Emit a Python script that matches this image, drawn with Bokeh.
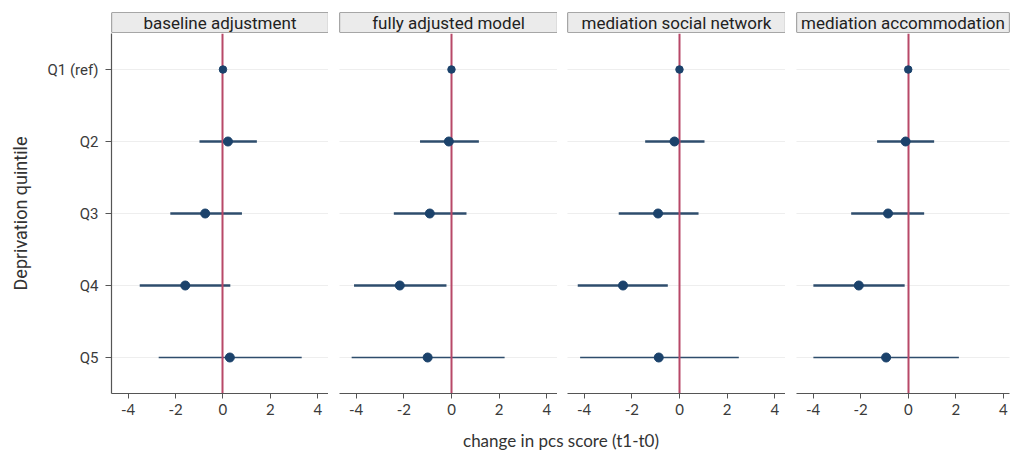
from bokeh.plotting import figure
from bokeh.models import (ColumnDataSource, FactorRange, Range1d, FixedTicker,
                          Grid, CategoricalTicker, Label, BoxAnnotation,
                          PrintfTickFormatter)
from bokeh.layouts import row, column
from bokeh.embed import file_html
from bokeh.resources import INLINE

# ---------------- data ----------------
categories = ["Q1 (ref)", "Q2", "Q3", "Q4", "Q5"]
panel_titles = ["baseline adjustment", "fully adjusted model",
                "mediation social network", "mediation accommodation"]

baseline_est = [0.0, 0.21, -0.75, -1.59, 0.29]
baseline_lo = [0.0, -0.99, -2.22, -3.51, -2.71]
baseline_hi = [0.0, 1.43, 0.80, 0.31, 3.32]

full_est = [0.0, -0.11, -0.91, -2.17, -1.00]
full_lo = [0.0, -1.32, -2.42, -4.09, -4.19]
full_hi = [0.0, 1.15, 0.63, -0.21, 2.23]

social_est = [0.0, -0.21, -0.90, -2.37, -0.87]
social_lo = [0.0, -1.44, -2.55, -4.27, -4.17]
social_hi = [0.0, 1.05, 0.80, -0.49, 2.49]

accom_est = [0.0, -0.11, -0.85, -2.08, -0.93]
accom_lo = [0.0, -1.31, -2.40, -3.99, -3.99]
accom_hi = [0.0, 1.09, 0.67, -0.15, 2.13]

x_ticks = [-4, -2, 0, 2, 4]
x_title = "change in pcs score (t1-t0)"
y_title = "Deprivation quintile"

series = [
    (baseline_est, baseline_lo, baseline_hi),
    (full_est, full_lo, full_hi),
    (social_est, social_lo, social_hi),
    (accom_est, accom_lo, accom_hi),
]

# ---------------- style ----------------
POINT = "#1b426b"
CI = "#2e4d6c"
ZERO = "#b84868"
AXIS = "#555555"
LABEL = "#3a3a3a"
GRID = "#eeeeee"
STRIP_FILL = "#ebebeb"

top_pad = 12
frame_h = 360
strip_h = 20
bottom_border = 28
title_h = 30

# (left border, frame width, right border, x end)
geom = [(111, 217, 0, 4.45), (11, 218, 0, 4.45), (10, 218, 0, 4.45), (11, 213, 1, 4.26)]
x_start = -4.70

columns = []
for i, ((est, lo, hi), title, (lb, fw, rb, xend)) in enumerate(zip(series, panel_titles, geom)):
    src = ColumnDataSource(dict(
        cat=categories, est=est, lo=lo, hi=hi,
        lw=[2.3 if (h - l) < 5 else 1.4 for l, h in zip(lo, hi)],
        sz=[7.5 if h == l else 9 for l, h in zip(lo, hi)],
    ))

    # strip header
    s = figure(width=lb + fw + rb, height=top_pad + strip_h + 1,
               x_range=Range1d(0, 1), y_range=Range1d(0, 1),
               x_axis_location=None, y_axis_location=None,
               toolbar_location=None, output_backend="svg",
               min_border_left=lb, min_border_right=rb,
               min_border_top=top_pad, min_border_bottom=1)
    s.background_fill_color = STRIP_FILL
    s.border_fill_color = "white"
    s.outline_line_color = None
    s.xgrid.visible = False
    s.ygrid.visible = False
    s.add_layout(BoxAnnotation(fill_color=STRIP_FILL, fill_alpha=1.0,
                               line_color="#5a5a5a", line_width=1.2,
                               line_alpha=1.0))
    s.add_layout(Label(x=0.5, y=0.5, text=title, text_align="center",
                       text_baseline="middle", text_font="Roboto",
                       text_font_size="17px", text_color="#222222"))

    # panel
    p = figure(width=lb + fw + rb, height=frame_h + bottom_border,
               x_range=Range1d(x_start, xend),
               y_range=FactorRange(factors=categories[::-1]),
               y_axis_location="left" if i == 0 else None,
               toolbar_location=None, output_backend="svg",
               min_border_left=lb, min_border_right=rb,
               min_border_top=0, min_border_bottom=bottom_border)
    p.outline_line_color = None
    p.background_fill_color = "white"
    p.border_fill_color = "white"
    p.xgrid.visible = False
    if i == 0:
        p.ygrid.grid_line_color = GRID
        p.yaxis.axis_line_color = AXIS
        p.yaxis.axis_line_width = 1.2
        p.yaxis.major_tick_line_color = AXIS
        p.yaxis.major_tick_out = 6
        p.yaxis.major_tick_in = 0
        p.yaxis.major_label_standoff = 7
        p.yaxis.major_label_text_font = "Roboto"
        p.yaxis.major_label_text_font_size = "15px"
        p.yaxis.major_label_text_color = LABEL
        p.yaxis.axis_label = y_title
        p.yaxis.axis_label_text_font = "Roboto"
        p.yaxis.axis_label_text_font_size = "18px"
        p.yaxis.axis_label_text_font_style = "normal"
        p.yaxis.axis_label_text_color = "#333333"
        p.yaxis.axis_label_standoff = 13
    else:
        p.add_layout(Grid(dimension=1, ticker=CategoricalTicker(),
                          grid_line_color=GRID))

    p.xaxis.ticker = FixedTicker(ticks=x_ticks)
    p.xaxis.formatter = PrintfTickFormatter(format="%d")
    p.xaxis.axis_line_color = AXIS
    p.xaxis.axis_line_width = 1.2
    p.xaxis.major_tick_line_color = AXIS
    p.xaxis.major_tick_out = 5
    p.xaxis.major_tick_in = 0
    p.xaxis.minor_tick_line_color = None
    p.xaxis.major_label_standoff = 5
    p.xaxis.major_label_text_font = "Lato"
    p.xaxis.major_label_text_font_size = "15px"
    p.xaxis.major_label_text_color = LABEL

    p.segment(x0="lo", y0="cat", x1="hi", y1="cat", source=src,
              line_color=CI, line_width="lw")
    p.vspan(x=[0], line_color=ZERO, line_width=2)
    p.scatter(x="est", y="cat", source=src, size="sz",
              fill_color=POINT, line_color=POINT)

    columns.append(column(s, p, spacing=0))

total_w = sum(lb + fw + rb for lb, fw, rb, _ in geom)
t = figure(width=total_w, height=title_h, x_range=Range1d(0, 1), y_range=Range1d(0, 1),
           x_axis_location=None, y_axis_location=None,
           toolbar_location=None, output_backend="svg",
           min_border=0)
t.outline_line_color = None
t.xgrid.visible = False
t.ygrid.visible = False
t.add_layout(Label(x=(111 + (total_w - 111) / 2) / total_w, y=0.36, text=x_title,
                   text_align="center", text_baseline="middle",
                   text_font="Lato", text_font_size="17px", text_color="#333333"))

layout = column(row(*columns, spacing=0), t, spacing=0)

open("out.html", "w").write(file_html(layout, INLINE))
